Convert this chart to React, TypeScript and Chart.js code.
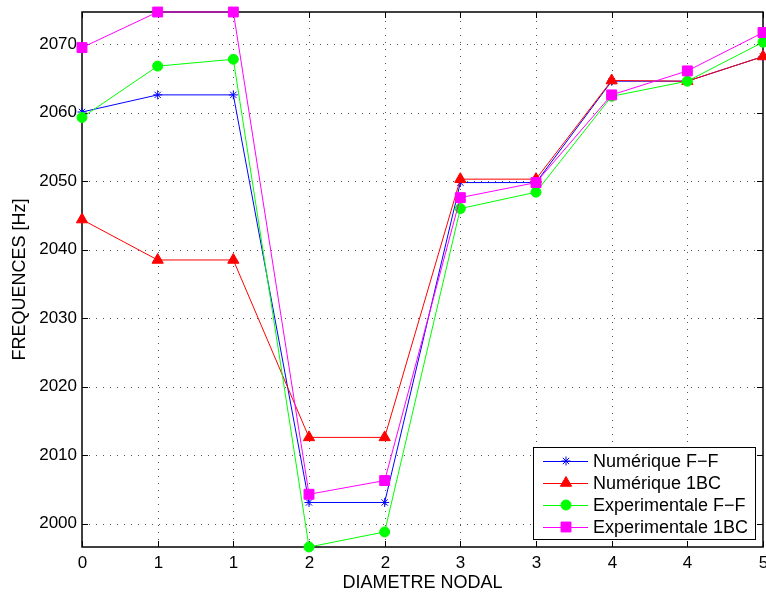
import React, { useEffect, useRef } from "react";
import { Chart, registerables } from "chart.js";
import { drawPoint } from "chart.js/helpers";

Chart.register(...registerables);

const xLabels = ["0", "1", "1", "2", "2", "3", "3", "4", "4", "5"];
const yTicks = [2000, 2010, 2020, 2030, 2040, 2050, 2060, 2070];
const yMin = 1996.6;
const yMax = 2074.7;

const seriesNames = ["Numérique F\u2212F", "Numérique 1BC", "Experimentale F\u2212F", "Experimentale 1BC"];
const numFF = [2060.1, 2062.6, 2062.6, 2003.1, 2003.1, 2049.8, 2049.8, 2064.6, 2064.6, 2068.2];
const num1BC = [2044.4, 2038.5, 2038.5, 2012.6, 2012.6, 2050.3, 2050.3, 2064.7, 2064.6, 2068.2];
const expFF = [2059.3, 2066.8, 2067.8, 1996.6, 1998.8, 2046.0, 2048.4, 2062.4, 2064.6, 2070.3];
const exp1BC = [2069.5, 2074.7, 2074.7, 2004.3, 2006.3, 2047.6, 2049.8, 2062.6, 2066.1, 2071.7];

const FONT = "'Liberation Sans', Arial, Helvetica, sans-serif";

const styles = [
  { color: "#0000ff", pointStyle: "star", radius: 4.5 },
  { color: "#ff0000", pointStyle: "triangle", radius: 6.5 },
  { color: "#00ff00", pointStyle: "circle", radius: 5 },
  { color: "#ff00ff", pointStyle: "rect", radius: 7 },
];

const frame = {
  id: "frame",
  beforeDatasetsDraw(chart: any) {
    const { ctx, chartArea: a, scales } = chart;
    const xs = scales.x;
    const ys = scales.y;
    ctx.save();
    ctx.strokeStyle = "#555555";
    ctx.lineWidth = 1;
    ctx.setLineDash([1, 6]);
    for (let i = 1; i < xLabels.length - 1; i++) {
      const px = Math.round(xs.getPixelForValue(i)) + 0.5;
      ctx.beginPath();
      ctx.moveTo(px, a.bottom);
      ctx.lineTo(px, a.top);
      ctx.stroke();
    }
    for (const v of yTicks) {
      const py = Math.round(ys.getPixelForValue(v)) + 0.5;
      ctx.beginPath();
      ctx.moveTo(a.left, py);
      ctx.lineTo(a.right, py);
      ctx.stroke();
    }
    ctx.setLineDash([]);
    ctx.strokeStyle = "#000000";
    ctx.lineWidth = 1.5;
    ctx.strokeRect(a.left, a.top, a.right - a.left, a.bottom - a.top);
    ctx.lineWidth = 1;
    const tl = 6;
    ctx.fillStyle = "#000000";
    ctx.font = `17px ${FONT}`;
    ctx.textAlign = "center";
    ctx.textBaseline = "middle";
    for (let i = 0; i < xLabels.length; i++) {
      const px = Math.round(xs.getPixelForValue(i)) + 0.5;
      ctx.beginPath();
      ctx.moveTo(px, a.bottom);
      ctx.lineTo(px, a.bottom - tl);
      ctx.moveTo(px, a.top);
      ctx.lineTo(px, a.top + tl);
      ctx.stroke();
      ctx.fillText(xLabels[i], px, a.bottom + 16);
    }
    for (const v of yTicks) {
      const py = Math.round(ys.getPixelForValue(v)) + 0.5;
      ctx.beginPath();
      ctx.moveTo(a.left, py);
      ctx.lineTo(a.left + tl, py);
      ctx.moveTo(a.right, py);
      ctx.lineTo(a.right - tl, py);
      ctx.stroke();
    }
    ctx.restore();
  },
  afterDatasetsDraw(chart: any) {
    const { ctx } = chart;
    ctx.save();
    const bx = 533, by = 447, bw = 222, bh = 92;
    ctx.fillStyle = "#ffffff";
    ctx.fillRect(bx, by, bw, bh);
    ctx.strokeStyle = "#000000";
    ctx.lineWidth = 1;
    ctx.strokeRect(bx + 0.5, by + 0.5, bw, bh);
    ctx.font = `18px ${FONT}`;
    ctx.textBaseline = "middle";
    ctx.textAlign = "left";
    for (let i = 0; i < seriesNames.length; i++) {
      const ry = 461 + i * 22;
      const s = styles[i];
      ctx.strokeStyle = s.color;
      ctx.lineWidth = 1;
      ctx.beginPath();
      ctx.moveTo(543, ry + 0.5);
      ctx.lineTo(588, ry + 0.5);
      ctx.stroke();
      ctx.fillStyle = s.color;
      drawPoint(ctx, { pointStyle: s.pointStyle, radius: s.radius, rotation: 0, borderWidth: 1 } as any, 566, ry);
      ctx.fillStyle = "#000000";
      ctx.fillText(seriesNames[i], 593, ry + 1);
    }
    ctx.restore();
  },
};

export default function App() {
  const ref = useRef<HTMLCanvasElement>(null);
  useEffect(() => {
    if (!ref.current) return;
    const allData = [numFF, num1BC, expFF, exp1BC];
    const chart = new Chart(ref.current, {
      type: "line",
      data: {
        datasets: allData.map((arr, i) => ({
          label: seriesNames[i],
          data: arr.map((y, k) => ({ x: k, y })),
          borderColor: styles[i].color,
          backgroundColor: styles[i].color,
          pointBackgroundColor: styles[i].color,
          pointBorderColor: styles[i].color,
          pointStyle: styles[i].pointStyle as any,
          pointRadius: styles[i].radius,
          pointBorderWidth: 1,
          borderWidth: 1,
          tension: 0,
          clip: false as any,
          order: 4 - i,
        })),
      },
      options: {
        responsive: false,
        animation: false,
        devicePixelRatio: 1,
        layout: { autoPadding: false, padding: { top: 12, right: 3, left: 0, bottom: 0 } },
        plugins: { legend: { display: false }, tooltip: { enabled: false } },
        scales: {
          x: {
            type: "linear",
            min: 0,
            max: xLabels.length - 1,
            grid: { display: false, drawTicks: false },
            border: { display: false },
            afterBuildTicks: (s: any) => {
              s.ticks = xLabels.map((_, i) => ({ value: i }));
            },
            afterFit: (s: any) => {
              s.height = 47;
              s.paddingLeft = 0;
              s.paddingRight = 0;
            },
            ticks: { display: false },
            title: {
              display: true,
              text: "DIAMETRE NODAL",
              color: "#000",
              font: { family: FONT, size: 18 },
              padding: { top: 0, bottom: 0 },
            },
          },
          y: {
            type: "linear",
            min: yMin,
            max: yMax,
            grid: { display: false, drawTicks: false },
            border: { display: false },
            afterBuildTicks: (s: any) => {
              s.ticks = yTicks.map((v) => ({ value: v }));
            },
            afterFit: (s: any) => {
              s.width = 82;
              s.paddingTop = 0;
              s.paddingBottom = 0;
            },
            ticks: {
              padding: 5,
              color: "#000",
              font: { family: FONT, size: 17 },
              callback: (v: any) => String(v),
            },
            title: {
              display: true,
              text: "FREQUENCES [Hz]",
              color: "#000",
              font: { family: FONT, size: 18 },
              padding: { top: 9, bottom: 0 },
            },
          },
        },
      },
      plugins: [frame],
    });
    return () => chart.destroy();
  }, []);
  return (
    <canvas
      ref={ref}
      width={766}
      height={594}
      style={{ position: "fixed", left: 0, top: 0, width: 766, height: 594, background: "#fff" }}
    />
  );
}
